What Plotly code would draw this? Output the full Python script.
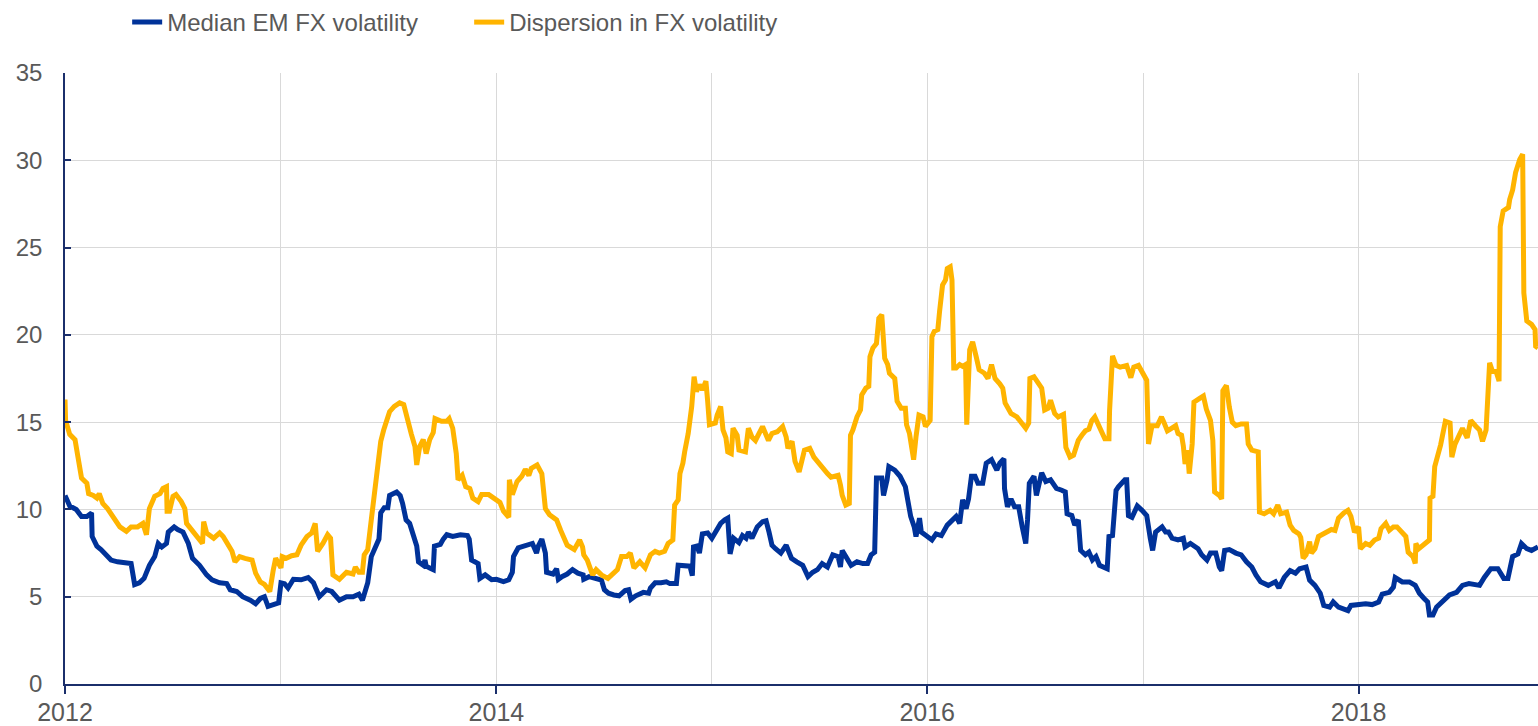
import plotly.graph_objects as go

median_dates = [
"2012-01-01","2012-01-09","2012-01-20","2012-01-29","2012-02-07","2012-02-15","2012-02-16","2012-02-24",
"2012-03-02","2012-03-10","2012-03-19","2012-03-30","2012-04-14","2012-04-22","2012-04-28","2012-05-06",
"2012-05-14","2012-05-23","2012-06-01","2012-06-07","2012-06-13","2012-06-21","2012-06-24","2012-07-04",
"2012-07-10","2012-07-19","2012-07-28","2012-08-04","2012-08-16","2012-08-28","2012-09-06","2012-09-19",
"2012-10-01","2012-10-07","2012-10-18","2012-10-28","2012-11-10","2012-11-19","2012-11-27","2012-12-04",
"2012-12-10","2012-12-19","2012-12-28","2013-01-01","2013-01-07","2013-01-13","2013-01-22","2013-02-04",
"2013-02-16","2013-02-25","2013-03-07","2013-03-19","2013-03-28","2013-04-10","2013-04-22","2013-05-03",
"2013-05-13","2013-05-19","2013-05-24","2013-05-28","2013-06-03","2013-06-11","2013-06-16","2013-06-19",
"2013-06-25","2013-07-01","2013-07-04","2013-07-16","2013-07-22","2013-07-26","2013-08-01","2013-08-07",
"2013-08-13","2013-08-19","2013-08-22","2013-08-30","2013-09-02","2013-09-04","2013-09-10","2013-09-16",
"2013-09-18","2013-09-28","2013-10-03","2013-10-09","2013-10-19","2013-11-01","2013-11-13","2013-11-16",
"2013-11-20","2013-12-01","2013-12-04","2013-12-13","2013-12-24","2014-01-01","2014-01-13","2014-01-22",
"2014-01-28","2014-01-30","2014-02-07","2014-02-16","2014-02-25","2014-03-03","2014-03-10","2014-03-13",
"2014-03-19","2014-03-25","2014-03-27","2014-04-07","2014-04-13","2014-04-16","2014-04-22","2014-05-01",
"2014-05-10","2014-05-19","2014-05-28","2014-05-29","2014-06-07","2014-06-19","2014-06-28","2014-07-03",
"2014-07-10","2014-07-19","2014-07-28","2014-08-07","2014-08-13","2014-08-17","2014-08-25","2014-09-07",
"2014-09-16","2014-09-19","2014-09-27","2014-10-07","2014-10-16","2014-10-22","2014-11-02","2014-11-05",
"2014-11-16","2014-11-25","2014-11-29","2014-12-01","2014-12-07","2014-12-11","2014-12-16","2014-12-25",
"2015-01-01","2015-01-10","2015-01-16","2015-01-23","2015-01-28","2015-02-01","2015-02-07","2015-02-16",
"2015-02-22","2015-02-28","2015-03-04","2015-03-10","2015-03-19","2015-03-28","2015-04-03","2015-04-08",
"2015-04-13","2015-04-19","2015-04-28","2015-05-07","2015-05-16","2015-05-25","2015-06-04","2015-06-13",
"2015-06-21","2015-06-29","2015-07-07","2015-07-16","2015-07-25","2015-08-03","2015-08-07","2015-08-10",
"2015-08-18","2015-08-25","2015-09-04","2015-09-14","2015-09-22","2015-09-28","2015-10-04","2015-10-07",
"2015-10-16","2015-10-19","2015-10-25","2015-10-28","2015-11-07","2015-11-16","2015-11-25","2015-12-01",
"2015-12-04","2015-12-10","2015-12-13","2015-12-19","2015-12-22","2015-12-30","2016-01-09","2016-01-16",
"2016-01-25","2016-02-04","2016-02-13","2016-02-19","2016-02-25","2016-03-01","2016-03-07","2016-03-11",
"2016-03-16","2016-03-22","2016-03-27","2016-04-04","2016-04-10","2016-04-19","2016-04-28","2016-05-03",
"2016-05-10","2016-05-11","2016-05-16","2016-05-22","2016-05-28","2016-06-04","2016-06-10","2016-06-16",
"2016-06-19","2016-06-22","2016-06-30","2016-07-04","2016-07-13","2016-07-20","2016-07-28","2016-08-07",
"2016-08-16","2016-08-22","2016-08-25","2016-09-02","2016-09-07","2016-09-13","2016-09-17","2016-09-25",
"2016-10-01","2016-10-07","2016-10-13","2016-10-19","2016-11-01","2016-11-04","2016-11-10","2016-11-16",
"2016-11-20","2016-11-25","2016-12-01","2016-12-04","2016-12-07","2016-12-13","2016-12-22","2016-12-30",
"2017-01-07","2017-01-13","2017-01-17","2017-01-22","2017-02-02","2017-02-08","2017-02-13","2017-02-19",
"2017-03-01","2017-03-10","2017-03-13","2017-03-22","2017-04-04","2017-04-10","2017-04-19","2017-04-25",
"2017-05-04","2017-05-10","2017-05-14","2017-05-19","2017-05-27","2017-06-07","2017-06-16","2017-06-25",
"2017-07-04","2017-07-11","2017-07-19","2017-08-01","2017-08-13","2017-08-19","2017-08-28","2017-09-07",
"2017-09-16","2017-09-23","2017-10-04","2017-10-10","2017-10-19","2017-10-28","2017-11-03","2017-11-13",
"2017-11-19","2017-11-28","2017-12-10","2017-12-14","2017-12-19","2018-01-01","2018-01-13","2018-01-24",
"2018-02-04","2018-02-10","2018-02-22","2018-03-01","2018-03-04","2018-03-16","2018-03-28","2018-04-07",
"2018-04-14","2018-04-22","2018-04-28","2018-05-01","2018-05-07","2018-05-13","2018-05-22","2018-06-04",
"2018-06-16","2018-06-26","2018-07-07","2018-07-25","2018-08-02","2018-08-13","2018-08-25","2018-09-04",
"2018-09-11","2018-09-19","2018-09-28","2018-10-04","2018-10-13","2018-10-21","2018-11-01",
]
median_values = [
10.8,10.2,10.0,9.6,9.6,9.8,8.45,7.9,
7.7,7.4,7.1,7.0,6.95,6.9,5.7,5.8,
6.05,6.8,7.3,8.05,7.85,8.05,8.7,9.0,
8.85,8.7,8.05,7.2,6.8,6.25,5.97,5.8,
5.75,5.4,5.3,5.0,4.8,4.6,4.9,5.0,
4.45,4.55,4.65,5.8,5.75,5.5,6.0,5.97,
6.1,5.8,5.0,5.4,5.3,4.8,5.0,5.0,
5.15,4.8,5.5,5.8,7.3,7.9,8.3,9.8,
10.1,10.1,10.8,11.0,10.8,10.35,9.4,9.2,
8.45,7.9,7.0,6.8,7.1,6.75,6.65,6.55,
7.9,8.0,8.3,8.55,8.45,8.55,8.5,8.3,
7.1,6.9,6.05,6.25,5.97,6.0,5.87,5.97,
6.4,7.3,7.8,7.9,8.05,8.05,7.5,7.9,
8.3,7.5,6.4,6.3,6.6,6.0,6.15,6.3,
6.55,6.35,6.25,6.0,6.15,6.05,5.95,5.4,
5.2,5.1,5.05,5.35,5.4,4.85,5.05,5.25,
5.2,5.5,5.8,5.8,5.85,5.75,5.75,6.8,
6.75,6.75,6.2,7.85,7.9,7.5,8.6,8.65,
8.35,8.85,9.2,9.4,9.5,7.45,8.35,8.1,
8.5,8.35,8.7,8.35,9.0,9.3,9.35,8.7,
7.95,7.75,7.5,7.95,7.2,7.0,6.8,6.15,
6.4,6.55,6.9,6.7,7.4,7.3,6.7,7.65,
7.2,6.8,7.0,6.9,6.9,7.4,7.55,11.8,
11.8,10.8,11.7,12.45,12.25,11.9,11.3,10.15,
9.6,9.0,8.45,9.5,8.7,8.5,8.25,8.6,
8.5,9.1,9.4,9.6,9.2,10.55,10.05,10.6,
11.9,11.9,11.5,11.5,12.65,12.85,12.25,12.65,
12.9,11.2,10.15,10.6,10.15,10.15,9.0,8.05,
9.4,11.5,11.9,10.8,12.1,11.6,11.7,11.2,
11.1,11.0,9.75,9.65,9.1,9.4,7.65,7.4,
7.55,7.1,7.3,6.8,6.6,8.45,8.5,11.1,
11.3,11.5,11.7,11.7,9.65,9.55,10.2,9.95,
9.65,8.35,7.65,8.7,9.0,8.7,8.7,8.35,
8.25,8.35,7.85,8.05,7.75,7.4,7.1,7.5,
7.5,6.7,6.5,7.65,7.7,7.5,7.4,7.0,
6.7,6.25,5.85,5.65,5.85,5.5,6.1,6.5,
6.35,6.6,6.7,5.95,5.65,5.2,4.5,4.4,
4.7,4.4,4.3,4.2,4.5,4.55,4.6,4.55,
4.7,5.15,5.25,5.55,6.1,5.85,5.85,5.65,
5.2,4.9,4.7,3.95,3.95,4.4,4.7,5.1,
5.25,5.65,5.75,5.65,6.1,6.6,6.6,6.05,
6.05,7.3,7.45,8.05,7.75,7.65,7.85,
]

dispersion_dates = [
"2012-01-01","2012-01-02","2012-01-09","2012-01-18","2012-01-23","2012-01-29","2012-02-07","2012-02-10",
"2012-02-18","2012-02-24","2012-02-28","2012-03-05","2012-03-13","2012-03-22","2012-04-03","2012-04-14",
"2012-04-22","2012-05-03","2012-05-12","2012-05-18","2012-05-23","2012-06-01","2012-06-10","2012-06-15",
"2012-06-21","2012-06-22","2012-06-26","2012-07-02","2012-07-07","2012-07-16","2012-07-22","2012-07-25",
"2012-08-03","2012-08-10","2012-08-16","2012-08-21","2012-08-23","2012-08-28","2012-09-09","2012-09-19",
"2012-09-25","2012-10-04","2012-10-10","2012-10-15","2012-10-23","2012-11-01","2012-11-13","2012-11-19",
"2012-11-27","2012-12-04","2012-12-13","2012-12-19","2012-12-23","2013-01-01","2013-01-03","2013-01-10",
"2013-01-19","2013-01-28","2013-02-04","2013-02-14","2013-02-22","2013-02-28","2013-03-04","2013-03-13",
"2013-03-21","2013-03-26","2013-03-30","2013-04-10","2013-04-22","2013-05-03","2013-05-07","2013-05-13",
"2013-05-19","2013-05-22","2013-05-28","2013-06-03","2013-06-09","2013-06-14","2013-06-19","2013-06-24",
"2013-06-28","2013-07-04","2013-07-12","2013-07-21","2013-07-28","2013-08-04","2013-08-10","2013-08-16",
"2013-08-19","2013-08-24","2013-08-30","2013-09-04","2013-09-10","2013-09-16","2013-09-19","2013-09-30",
"2013-10-09","2013-10-13","2013-10-19","2013-10-25","2013-10-28","2013-11-04","2013-11-10","2013-11-17",
"2013-11-22","2013-12-01","2013-12-07","2013-12-19","2013-12-26","2014-01-07","2014-01-13","2014-01-22",
"2014-01-23","2014-01-28","2014-02-05","2014-02-13","2014-02-19","2014-02-25","2014-03-01","2014-03-11",
"2014-03-19","2014-03-25","2014-04-01","2014-04-13","2014-04-20","2014-05-01","2014-05-13","2014-05-22",
"2014-05-27","2014-05-29","2014-06-04","2014-06-10","2014-06-13","2014-06-19","2014-06-28","2014-07-09",
"2014-07-16","2014-07-25","2014-08-01","2014-08-10","2014-08-16","2014-08-22","2014-09-01","2014-09-10",
"2014-09-19","2014-09-27","2014-10-04","2014-10-13","2014-10-19","2014-10-27","2014-10-30","2014-11-05",
"2014-11-08","2014-11-13","2014-11-16","2014-11-22","2014-11-28","2014-12-02","2014-12-06","2014-12-11",
"2014-12-16","2014-12-22","2014-12-25","2014-12-28","2015-01-07","2015-01-10","2015-01-16","2015-01-20",
"2015-01-25","2015-01-28","2015-02-03","2015-02-06","2015-02-13","2015-02-16","2015-02-27","2015-03-04",
"2015-03-10","2015-03-16","2015-03-28","2015-04-07","2015-04-13","2015-04-22","2015-05-01","2015-05-07",
"2015-05-10","2015-05-17","2015-05-22","2015-05-29","2015-06-07","2015-06-16","2015-06-23","2015-07-01",
"2015-07-10","2015-07-16","2015-07-22","2015-08-03","2015-08-07","2015-08-10","2015-08-16","2015-08-22",
"2015-08-24","2015-08-28","2015-09-04","2015-09-10","2015-09-12","2015-09-19","2015-09-24","2015-09-26",
"2015-10-01","2015-10-07","2015-10-11","2015-10-16","2015-10-21","2015-10-26","2015-10-29","2015-11-07",
"2015-11-11","2015-11-18","2015-11-25","2015-11-27","2015-12-02","2015-12-09","2015-12-13","2015-12-18",
"2015-12-25","2015-12-29","2016-01-06","2016-01-09","2016-01-13","2016-01-19","2016-01-22","2016-01-27",
"2016-02-01","2016-02-04","2016-02-09","2016-02-12","2016-02-15","2016-02-19","2016-02-25","2016-03-01",
"2016-03-06","2016-03-08","2016-03-13","2016-03-18","2016-03-24","2016-03-29","2016-04-07","2016-04-13",
"2016-04-19","2016-04-25","2016-05-03","2016-05-08","2016-05-12","2016-05-16","2016-05-22","2016-06-01",
"2016-06-09","2016-06-16","2016-06-21","2016-06-23","2016-06-30","2016-07-07","2016-07-13","2016-07-18",
"2016-07-24","2016-07-28","2016-08-04","2016-08-10","2016-08-19","2016-08-23","2016-08-30","2016-09-05",
"2016-09-13","2016-09-19","2016-09-25","2016-10-01","2016-10-06","2016-10-11","2016-10-16","2016-10-22",
"2016-10-28","2016-11-04","2016-11-05","2016-11-10","2016-11-16","2016-11-23","2016-12-04","2016-12-11",
"2016-12-16","2016-12-24","2016-12-30","2017-01-07","2017-01-10","2017-01-16","2017-01-25","2017-02-01",
"2017-02-05","2017-02-11","2017-02-16","2017-02-25","2017-03-01","2017-03-07","2017-03-10","2017-03-13",
"2017-03-17","2017-03-20","2017-03-25","2017-03-28","2017-04-06","2017-04-13","2017-04-18","2017-04-25",
"2017-04-29","2017-05-02","2017-05-10","2017-05-14","2017-05-16","2017-05-22","2017-05-27","2017-06-01",
"2017-06-07","2017-06-16","2017-06-25","2017-06-28","2017-07-04","2017-07-11","2017-07-15","2017-07-17",
"2017-07-25","2017-08-04","2017-08-10","2017-08-17","2017-08-22","2017-09-01","2017-09-07","2017-09-13",
"2017-09-22","2017-09-25","2017-09-29","2017-10-04","2017-10-10","2017-10-13","2017-10-19","2017-10-25",
"2017-11-03","2017-11-10","2017-11-16","2017-11-22","2017-11-28","2017-12-07","2017-12-14","2017-12-19",
"2017-12-25","2018-01-01","2018-01-04","2018-01-13","2018-01-20","2018-01-28","2018-02-04","2018-02-08",
"2018-02-16","2018-02-22","2018-03-01","2018-03-07","2018-03-16","2018-03-22","2018-03-26","2018-04-03",
"2018-04-07","2018-04-08","2018-04-13","2018-04-22","2018-05-01","2018-05-02","2018-05-07","2018-05-10",
"2018-05-15","2018-05-20","2018-05-28","2018-06-05","2018-06-08","2018-06-13","2018-06-19","2018-06-26",
"2018-07-04","2018-07-10","2018-07-19","2018-07-25","2018-07-30","2018-08-05","2018-08-11","2018-08-16",
"2018-08-22","2018-08-27","2018-08-29","2018-09-03","2018-09-12","2018-09-14","2018-09-19","2018-09-24",
"2018-10-01","2018-10-06","2018-10-08","2018-10-13","2018-10-21","2018-10-27","2018-10-28","2018-11-01",
]
dispersion_values = [
16.3,15.1,14.3,14.0,13.0,11.8,11.5,10.9,
10.8,10.65,10.9,10.35,10.05,9.6,9.0,8.75,
9.0,9.0,9.2,8.55,10.05,10.75,10.9,11.2,
11.3,9.9,9.9,10.75,10.85,10.45,10.05,9.2,
8.85,8.55,8.25,8.05,9.3,8.65,8.35,8.65,
8.45,7.95,7.6,7.0,7.3,7.2,7.1,6.35,
5.85,5.7,5.3,6.55,7.2,6.65,7.3,7.2,
7.35,7.4,7.95,8.45,8.65,9.2,7.6,8.05,
8.55,8.35,6.25,6.0,6.4,6.3,6.7,6.4,
6.4,7.4,7.7,9.4,11.1,12.55,13.9,14.55,
15.05,15.6,15.9,16.1,16.0,14.95,14.3,13.6,
12.55,13.6,14.0,13.2,14.0,14.4,15.2,15.05,
15.05,15.2,14.65,13.2,11.7,11.95,11.3,11.2,
10.65,10.45,10.85,10.85,10.65,10.4,9.9,9.55,
11.7,10.85,11.6,11.9,12.3,11.95,12.35,12.55,
12.05,10.05,9.7,9.4,8.8,7.95,7.7,8.25,
7.85,7.4,7.1,6.45,6.25,6.55,6.25,6.05,
6.25,6.55,7.3,7.3,7.5,6.65,7.0,6.65,
7.4,7.6,7.5,7.6,8.05,8.25,10.25,10.55,
12.05,12.65,13.3,14.35,15.9,17.6,16.75,17.15,
16.85,17.35,16.2,14.85,14.95,15.4,15.9,14.55,
14.1,13.3,13.2,14.65,14.25,13.4,13.3,14.65,
14.15,13.95,14.75,13.95,14.35,14.45,14.75,14.15,
13.5,13.9,12.75,12.15,13.4,13.5,13.0,12.65,
12.35,12.05,11.85,11.95,11.4,10.8,10.25,10.35,
14.25,14.55,15.3,15.7,16.55,16.95,17.05,18.75,
19.25,19.5,20.95,21.15,18.65,18.3,17.8,17.5,
16.2,15.8,15.8,14.85,14.35,12.85,14.15,15.4,
15.3,14.75,15.1,19.9,20.2,20.3,21.35,22.85,
23.15,23.8,23.9,23.15,18.1,18.1,18.3,18.2,
18.3,14.85,19.15,19.6,18.75,18.0,17.8,17.5,
18.3,17.5,17.2,16.95,16.1,15.9,15.5,15.3,
14.95,14.65,14.95,17.5,17.6,17.2,16.95,15.7,
15.8,16.25,15.5,15.3,15.45,13.55,13.0,13.1,
13.95,14.25,14.5,14.6,15.1,15.3,14.9,14.35,
14.05,14.05,15.65,18.8,18.25,18.15,18.25,17.55,
18.15,18.25,17.85,17.4,13.75,14.8,14.8,15.3,
15.0,14.5,14.6,14.8,14.35,14.25,13.65,12.6,
13.4,12.05,13.75,16.15,16.35,16.5,15.75,15.1,
13.95,11.0,10.8,10.6,16.8,17.1,15.85,15.0,
14.8,14.9,14.9,13.75,13.4,13.3,13.3,9.85,
9.75,9.95,9.75,10.25,9.75,9.85,9.1,8.8,
8.6,8.4,7.2,7.4,8.15,7.5,7.75,8.45,
8.6,8.7,8.85,8.8,9.5,9.8,9.95,9.6,
8.7,9.0,7.75,8.05,7.95,8.25,8.35,8.9,
9.2,8.8,9.0,9.0,8.6,8.45,7.55,7.3,
6.9,8.05,7.75,8.05,8.25,10.65,10.75,12.45,
13.0,13.7,15.05,14.95,13.0,13.7,14.15,14.65,
14.1,15.1,14.75,14.55,13.9,14.55,18.4,17.9,
17.9,17.35,26.2,27.1,27.3,27.75,28.3,29.3,
30.05,30.35,22.4,20.8,20.6,20.3,19.35,19.25,
]

series_names = ["Median EM FX volatility", "Dispersion in FX volatility"]
series_colors = ["#003299", "#FFB400"]

x_range = ["2012-01-01", "2018-11-01"]
y_range = [0, 35]
y_dtick = 5

AXIS = "#1b2f6b"
GRID = "#d9d9d9"
TEXT = "#595959"
FONT = "Liberation Sans, Arial, sans-serif"

fig = go.Figure()
fig.add_trace(go.Scatter(x=median_dates, y=median_values, mode="lines",
                         name=series_names[0],
                         line=dict(color=series_colors[0], width=5)))
fig.add_trace(go.Scatter(x=dispersion_dates, y=dispersion_values, mode="lines",
                         name=series_names[1],
                         line=dict(color=series_colors[1], width=5)))

fig.update_layout(
    width=1538, height=726,
    margin=dict(l=65, r=0, t=73, b=42, autoexpand=False),
    paper_bgcolor="white", plot_bgcolor="white",
    font=dict(family=FONT, size=24, color=TEXT),
    showlegend=True,
    legend=dict(orientation="h", x=0.0422, xanchor="left", y=1.0, yanchor="top",
                yref="container", font=dict(size=24, color=TEXT),
                bgcolor="rgba(0,0,0,0)",
                entrywidth=297, entrywidthmode="pixels"),
    xaxis=dict(type="date", range=x_range, autorange=False, automargin=False,
               tick0="2012-01-01", dtick="M24", tickformat="%Y",
               showgrid=True, gridcolor=GRID, gridwidth=1,
               minor=dict(dtick="M12", tick0="2012-01-01", showgrid=True,
                          gridcolor=GRID, gridwidth=1, ticks=""),
               showline=True, linecolor=AXIS, linewidth=1.5,
               ticks="outside", ticklen=8, tickcolor=AXIS, tickwidth=1.5,
               tickfont=dict(size=25, color=TEXT), zeroline=False,
               ticklabelstandoff=-3),
    yaxis=dict(range=y_range, autorange=False, dtick=y_dtick, tick0=0,
               automargin=False,
               showgrid=True, gridcolor=GRID, gridwidth=1,
               showline=True, linecolor=AXIS, linewidth=1.5,
               ticks="inside", ticklen=6, tickcolor=AXIS, tickwidth=1.5,
               tickfont=dict(size=24, color=TEXT), zeroline=False,
               ticklabelstandoff=16),
)

fig.write_html("out.html", config={"displayModeBar": False},
               post_script="document.body.style.margin='0px';")
